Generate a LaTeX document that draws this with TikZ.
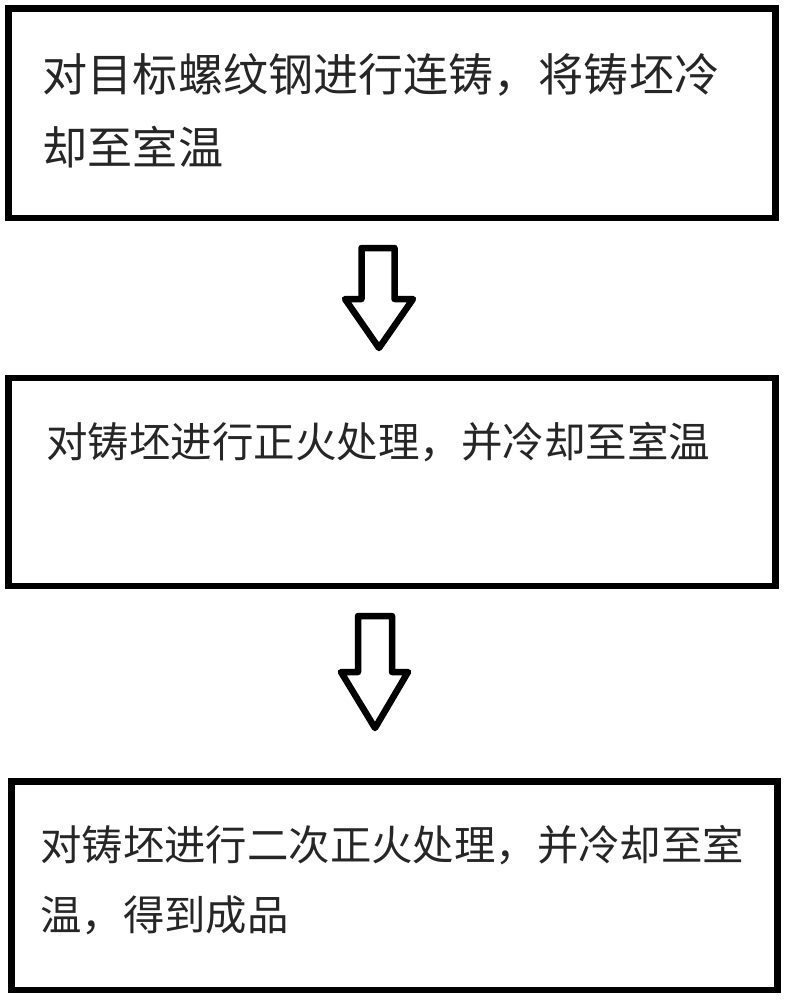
\documentclass[tikz,border=0pt]{standalone}
\usepackage{fontspec}
\newfontfamily\cjk{Noto Sans CJK SC}
\begin{document}
\begin{tikzpicture}[x=1pt,y=-1pt,
  stepbox/.style={draw=black,line width=6.8pt},
  txt/.style={anchor=base west,inner sep=0pt,text=black!85},
  bigarrow/.style={draw=black,line width=6.5pt,line join=round,fill=white}]
\useasboundingbox (0,0) rectangle (788,1000);
% boxes
\draw[stepbox] (8.5,8.5) rectangle (775.5,218);
\draw[stepbox] (8.5,378) rectangle (775.5,586);
\draw[stepbox] (11.5,781.5) rectangle (777.5,990);
% texts
\node[txt,font={\cjk\fontsize{45.1}{50}\selectfont}] (t1a) at (42.5,92) {对目标螺纹钢进行连铸，将铸坯冷};
\node[txt,font={\cjk\fontsize{45.1}{50}\selectfont}] (t1b) at (42.5,165) {却至室温};
\node[txt,font={\cjk\fontsize{41.5}{50}\selectfont}] (t2a) at (46,457) {对铸坯进行正火处理，并冷却至室温};
\node[txt,font={\cjk\fontsize{41.4}{50}\selectfont}] (t3a) at (40,860) {对铸坯进行二次正火处理，并冷却至室};
\node[txt,font={\cjk\fontsize{41.4}{50}\selectfont}] (t3b) at (40,930) {温，得到成品};
% arrows
\draw[bigarrow] (361.5,248) -- (394.5,248) -- (394.5,299) -- (413,299) -- (379,348) -- (345,299) -- (361.5,299) -- cycle;
\draw[bigarrow] (358,616) -- (392,616) -- (392,672) -- (408,672) -- (375,728) -- (341,672) -- (358,672) -- cycle;
\end{tikzpicture}
\end{document}
